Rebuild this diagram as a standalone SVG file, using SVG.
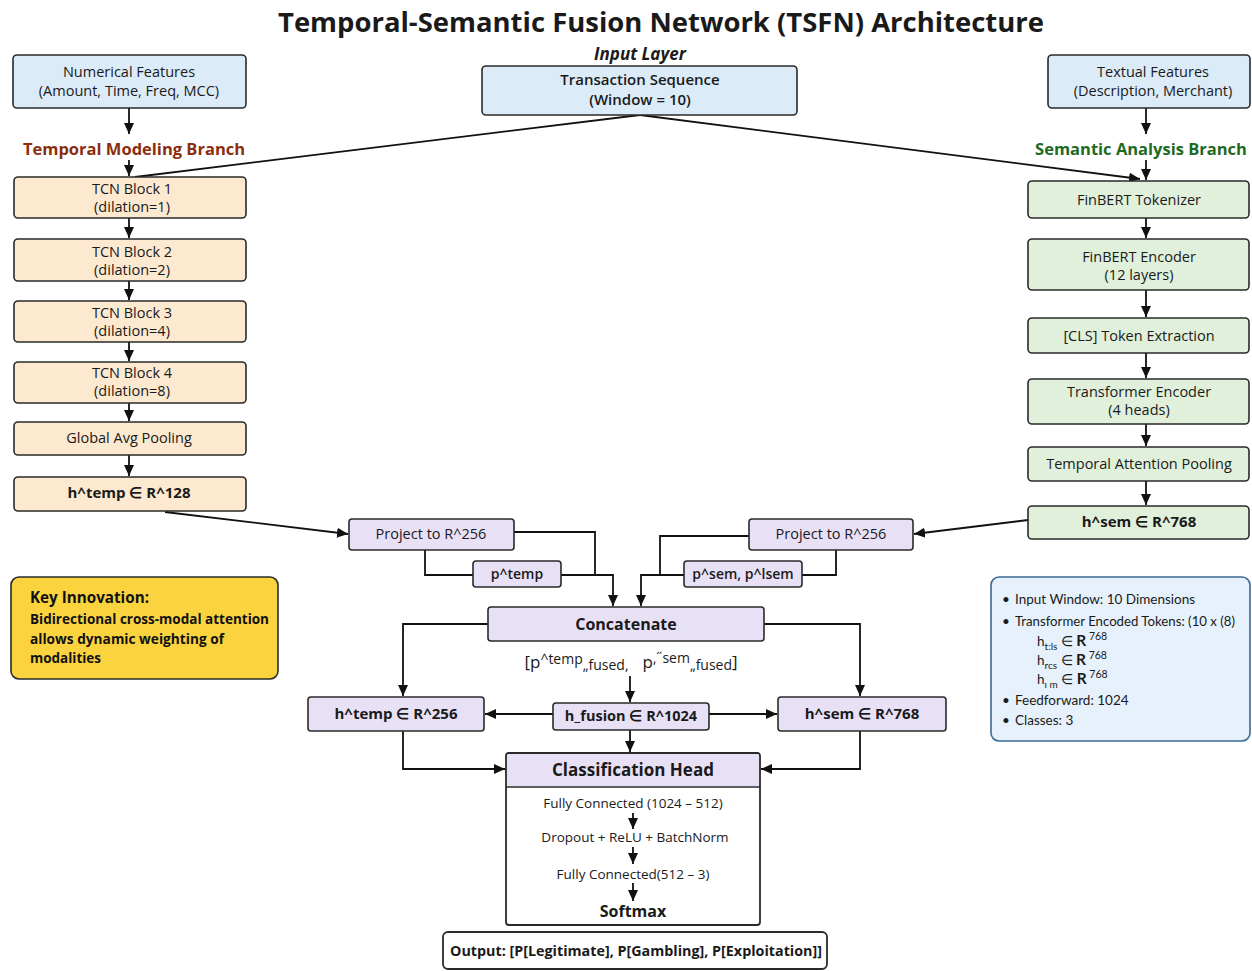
<svg xmlns="http://www.w3.org/2000/svg" width="1252" height="971" viewBox="0 0 1252 971">
<defs>
<marker id="ah" markerUnits="userSpaceOnUse" markerWidth="11" markerHeight="10" refX="11" refY="5" orient="auto"><path d="M0,0 L11,5 L0,10 z" fill="#111"/></marker>
<style>
.t{font-family:"Open Sans","Noto Sans","Liberation Sans",sans-serif;fill:#1a1a1a;text-anchor:middle}
.n{font-size:14.5px}
.b{font-size:15px;font-weight:700}
.box{stroke:#2a2a2a;stroke-width:1.6}
.blue{fill:#dcebf8}
.org{fill:#fde9d0}
.grn{fill:#e0f0da}
.pur{fill:#e8e1f6}
.c{fill:none;stroke:#111;stroke-width:1.8}
.k{font-family:"Open Sans","Noto Sans",sans-serif;font-weight:700;fill:#111}
</style>
</defs>
<rect width="1252" height="971" fill="#fff"/>
<text class="t" x="661" y="32" style="font-size:26px;font-weight:700" textLength="766" lengthAdjust="spacingAndGlyphs">Temporal-Semantic Fusion Network (TSFN) Architecture</text>
<text class="t" x="640" y="60" style="font-size:17px;font-weight:700;font-style:italic">Input Layer</text>

<g id="connectors">
<line class="c" x1="640" y1="115" x2="135" y2="177"/>
<line class="c" x1="640" y1="115" x2="1140" y2="179" marker-end="url(#ah)"/>
<line class="c" x1="129" y1="108" x2="129" y2="134" marker-end="url(#ah)"/>
<line class="c" x1="129" y1="160" x2="129" y2="176" marker-end="url(#ah)"/>
<line class="c" x1="129" y1="218" x2="129" y2="238" marker-end="url(#ah)"/>
<line class="c" x1="129" y1="281" x2="129" y2="300" marker-end="url(#ah)"/>
<line class="c" x1="129" y1="342" x2="129" y2="361" marker-end="url(#ah)"/>
<line class="c" x1="129" y1="403" x2="129" y2="421" marker-end="url(#ah)"/>
<line class="c" x1="129" y1="455" x2="129" y2="476" marker-end="url(#ah)"/>
<line class="c" x1="1146" y1="108" x2="1146" y2="134" marker-end="url(#ah)"/>
<line class="c" x1="1146" y1="160" x2="1146" y2="180" marker-end="url(#ah)"/>
<line class="c" x1="1146" y1="218" x2="1146" y2="238" marker-end="url(#ah)"/>
<line class="c" x1="1146" y1="290" x2="1146" y2="317" marker-end="url(#ah)"/>
<line class="c" x1="1146" y1="353" x2="1146" y2="378" marker-end="url(#ah)"/>
<line class="c" x1="1146" y1="424" x2="1146" y2="446" marker-end="url(#ah)"/>
<line class="c" x1="1146" y1="481" x2="1146" y2="505" marker-end="url(#ah)"/>
<line class="c" x1="165" y1="512" x2="348" y2="534" marker-end="url(#ah)"/>
<line class="c" x1="1028" y1="520" x2="914" y2="534" marker-end="url(#ah)"/>
<polyline class="c" points="514,532 595,532 595,575"/>
<polyline class="c" points="425,550 425,575 473,575"/>
<polyline class="c" points="561,575 613,575 613,606" marker-end="url(#ah)"/>
<polyline class="c" points="749,536 660,536 660,575"/>
<polyline class="c" points="836,550 836,575 802,575"/>
<polyline class="c" points="684,575 641,575 641,606" marker-end="url(#ah)"/>
<polyline class="c" points="488,624 403,624 403,696" marker-end="url(#ah)"/>
<polyline class="c" points="764,624 860,624 860,696" marker-end="url(#ah)"/>
<line class="c" x1="630" y1="676" x2="630" y2="702" marker-end="url(#ah)"/>
<line class="c" x1="553" y1="714" x2="485" y2="714" marker-end="url(#ah)"/>
<line class="c" x1="709" y1="714" x2="777" y2="714" marker-end="url(#ah)"/>
<line class="c" x1="630" y1="730" x2="630" y2="752" marker-end="url(#ah)"/>
<polyline class="c" points="403,731 403,769 505,769" marker-end="url(#ah)"/>
<polyline class="c" points="860,731 860,769 761,769" marker-end="url(#ah)"/>
</g>

<g id="numerical"><rect class="box blue" x="13" y="55" width="233" height="53" rx="4"/>
<text class="t n" x="129" y="77">Numerical Features</text><text class="t n" x="129" y="96">(Amount, Time, Freq, MCC)</text></g>
<g id="transaction"><rect class="box blue" x="482" y="66" width="315" height="49" rx="4"/>
<text class="t" x="640" y="85" style="font-size:15px;font-weight:600">Transaction Sequence</text><text class="t" x="640" y="105" style="font-size:15px;font-weight:600">(Window = 10)</text></g>
<g id="textual"><rect class="box blue" x="1048" y="55" width="202" height="53" rx="4"/>
<text class="t n" x="1153" y="77">Textual Features</text><text class="t n" x="1153" y="96">(Description, Merchant)</text></g>

<text class="t" x="134" y="155" style="font-size:16.5px;font-weight:700;fill:#8c2d0e">Temporal Modeling Branch</text>
<text class="t" x="1141" y="155" style="font-size:16.5px;font-weight:700;fill:#1f6a1f">Semantic Analysis Branch</text>

<g id="tcn1"><rect class="box org" x="14" y="177" width="232" height="41" rx="4"/><text class="t n" x="132" y="194">TCN Block 1</text><text class="t n" x="132" y="212">(dilation=1)</text></g>
<g id="tcn2"><rect class="box org" x="14" y="239" width="232" height="42" rx="4"/><text class="t n" x="132" y="257">TCN Block 2</text><text class="t n" x="132" y="275">(dilation=2)</text></g>
<g id="tcn3"><rect class="box org" x="14" y="301" width="232" height="41" rx="4"/><text class="t n" x="132" y="318">TCN Block 3</text><text class="t n" x="132" y="336">(dilation=4)</text></g>
<g id="tcn4"><rect class="box org" x="14" y="362" width="232" height="41" rx="4"/><text class="t n" x="132" y="378">TCN Block 4</text><text class="t n" x="132" y="396">(dilation=8)</text></g>
<g id="gap"><rect class="box org" x="14" y="422" width="232" height="33" rx="4"/><text class="t n" x="129" y="443">Global Avg Pooling</text></g>
<g id="htemp128"><rect class="box org" x="14" y="477" width="232" height="34" rx="4"/><text class="t b" x="129" y="498">h^temp ∈ R^128</text></g>

<g id="tokenizer"><rect class="box grn" x="1028" y="181" width="221" height="37" rx="4"/><text class="t n" x="1139" y="205">FinBERT Tokenizer</text></g>
<g id="encoder"><rect class="box grn" x="1028" y="239" width="221" height="51" rx="4"/><text class="t n" x="1139" y="262">FinBERT Encoder</text><text class="t n" x="1139" y="280">(12 layers)</text></g>
<g id="cls"><rect class="box grn" x="1028" y="318" width="221" height="35" rx="4"/><text class="t n" x="1139" y="341">[CLS] Token Extraction</text></g>
<g id="transformer"><rect class="box grn" x="1028" y="379" width="221" height="45" rx="4"/><text class="t n" x="1139" y="397">Transformer Encoder</text><text class="t n" x="1139" y="415">(4 heads)</text></g>
<g id="tap"><rect class="box grn" x="1028" y="447" width="221" height="34" rx="4"/><text class="t n" x="1139" y="469">Temporal Attention Pooling</text></g>
<g id="hsem768"><rect class="box grn" x="1028" y="506" width="221" height="33" rx="4"/><text class="t b" x="1139" y="527">h^sem ∈ R^768</text></g>

<g id="projL"><rect class="box pur" x="349" y="519" width="165" height="31" rx="3"/><text class="t n" x="431" y="539">Project to R^256</text></g>
<g id="ptemp"><rect class="box pur" x="473" y="561" width="88" height="26" rx="3"/><text class="t" x="517" y="579" style="font-size:14px;font-weight:600">p^temp</text></g>
<g id="projR"><rect class="box pur" x="749" y="519" width="164" height="31" rx="3"/><text class="t n" x="831" y="539">Project to R^256</text></g>
<g id="psem"><rect class="box pur" x="684" y="561" width="118" height="26" rx="3"/><text class="t" x="743" y="579" style="font-size:14px;font-weight:600">p^sem, p^lsem</text></g>

<g id="concat"><rect class="box pur" x="488" y="607" width="276" height="34" rx="3"/><text class="t" x="626" y="630" style="font-size:16px;font-weight:700">Concatenate</text></g>
<text class="t" x="631" y="668" style="font-size:17px"><tspan>[p</tspan><tspan style="font-size:14px" dy="-4">^temp</tspan><tspan style="font-size:14px" dy="6">„fused,</tspan><tspan dx="14" dy="-2">p</tspan><tspan style="font-size:14px" dy="-5">‚˝sem</tspan><tspan style="font-size:14px" dy="7">„fused</tspan><tspan dy="-2">]</tspan></text>

<g id="htemp256"><rect class="box pur" x="308" y="697" width="176" height="34" rx="3"/><text class="t b" x="396" y="719">h^temp ∈ R^256</text></g>
<g id="hfusion"><rect class="box pur" x="553" y="703" width="156" height="27" rx="3"/><text class="t" x="631" y="721" style="font-size:14.5px;font-weight:700">h_fusion ∈ R^1024</text></g>
<g id="hsem768b"><rect class="box pur" x="778" y="697" width="168" height="34" rx="3"/><text class="t b" x="862" y="719">h^sem ∈ R^768</text></g>

<g id="classhead">
<rect x="506" y="753" width="254" height="172" rx="3" fill="#fff" stroke="#2a2a2a" stroke-width="1.8"/>
<path d="M507,786 V756 Q507,754 509,754 H757 Q759,754 759,756 V786 Z" fill="#e8e1f6"/>
<line x1="506" y1="787" x2="760" y2="787" stroke="#2a2a2a" stroke-width="1.4"/>
<text class="t" x="633" y="776" style="font-size:17px;font-weight:700">Classification Head</text>
<text class="t" x="633" y="808" style="font-size:13.5px">Fully Connected (1024 – 512)</text>
<line class="c" x1="633" y1="813" x2="633" y2="829" marker-end="url(#ah)"/>
<text class="t" x="635" y="842" style="font-size:13.5px">Dropout + ReLU + BatchNorm</text>
<line class="c" x1="633" y1="847" x2="633" y2="864" marker-end="url(#ah)"/>
<text class="t" x="633" y="879" style="font-size:13.5px">Fully Connected(512 – 3)</text>
<line class="c" x1="633" y1="883" x2="633" y2="901" marker-end="url(#ah)"/>
<text class="t" x="633" y="917" style="font-size:16px;font-weight:700">Softmax</text>
</g>
<g id="output"><rect x="443" y="932" width="384" height="37" rx="5" fill="#fff" stroke="#2a2a2a" stroke-width="1.8"/>
<text class="t" x="636" y="956" style="font-size:14.5px;font-weight:700" textLength="372" lengthAdjust="spacingAndGlyphs">Output: [P[Legitimate], P[Gambling], P[Exploitation]]</text></g>

<g id="keyinnovation"><rect x="11" y="577" width="267" height="102" rx="8" fill="#fbd33f" stroke="#2a2a2a" stroke-width="1.6"/>
<text class="k" x="30" y="603" style="font-size:16px" textLength="119" lengthAdjust="spacingAndGlyphs">Key Innovation:</text>
<text class="k" x="30" y="624" style="font-size:13.5px" textLength="239" lengthAdjust="spacingAndGlyphs">Bidirectional cross-modal attention</text>
<text class="k" x="30" y="644" style="font-size:13.5px" textLength="194" lengthAdjust="spacingAndGlyphs">allows dynamic weighting of</text>
<text class="k" x="30" y="663" style="font-size:13.5px" textLength="71" lengthAdjust="spacingAndGlyphs">modalities</text></g>

<g id="infobox" style="font-family:Lato,'Open Sans',sans-serif;font-size:13.5px;fill:#1a1a1a"><rect x="991" y="577" width="259" height="164" rx="8" fill="#e6f1fb" stroke="#3b6a96" stroke-width="1.6"/>
<text x="1002" y="604">•</text><text x="1015" y="604">Input Window: 10 Dimensions</text>
<text x="1002" y="626">•</text><text x="1015" y="626" textLength="220" lengthAdjust="spacingAndGlyphs">Transformer Encoded Tokens: (10 x (8)</text>
<text x="1037" y="646">h<tspan style="font-size:10px" dy="4">t:ls</tspan><tspan dy="-4"> ∈ </tspan><tspan style="font-weight:700;font-size:15.5px">R</tspan><tspan style="font-size:10.5px" dy="-6"> 768</tspan></text>
<text x="1037" y="665">h<tspan style="font-size:10px" dy="4">rcs</tspan><tspan dy="-4"> ∈ </tspan><tspan style="font-weight:700;font-size:15.5px">R</tspan><tspan style="font-size:10.5px" dy="-6"> 768</tspan></text>
<text x="1037" y="684">h<tspan style="font-size:10px" dy="4">ı m</tspan><tspan dy="-4"> ∈ </tspan><tspan style="font-weight:700;font-size:15.5px">R</tspan><tspan style="font-size:10.5px" dy="-6"> 768</tspan></text>
<text x="1002" y="705">•</text><text x="1015" y="705">Feedforward: 1024</text>
<text x="1002" y="725">•</text><text x="1015" y="725">Classes: 3</text></g>
</svg>
